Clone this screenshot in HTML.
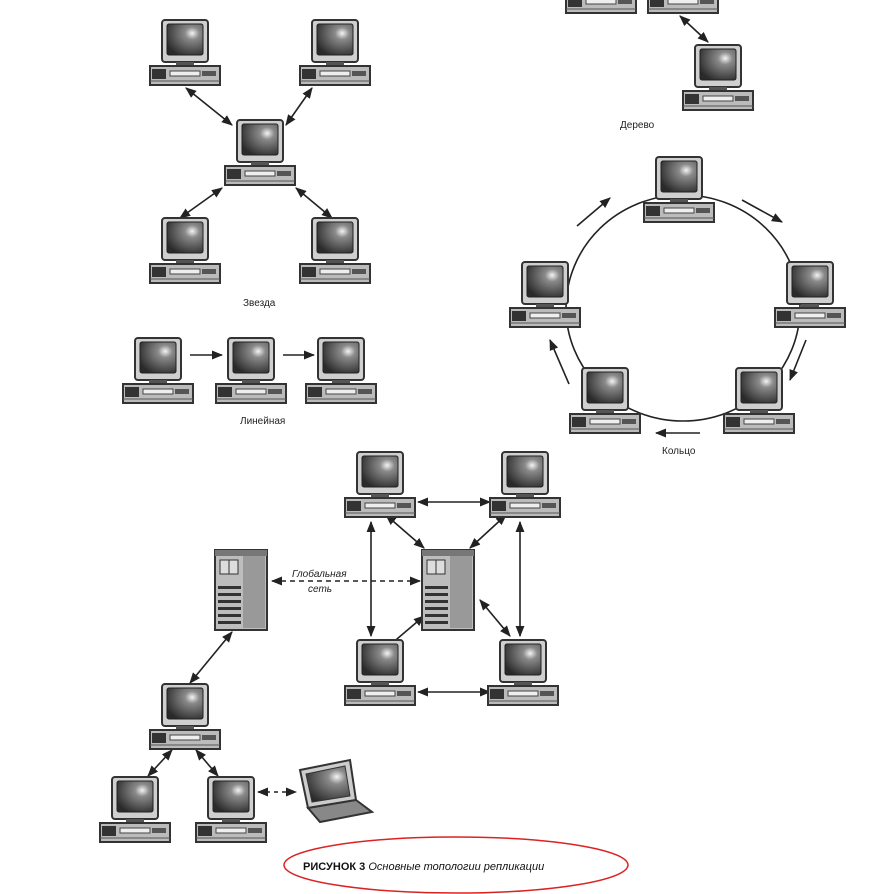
<!DOCTYPE html>
<html><head><meta charset="utf-8"><style>
html,body{margin:0;padding:0;background:#fff}
svg{display:block}
text{font-family:"Liberation Sans","DejaVu Sans",sans-serif}
</style></head><body>
<svg width="876" height="894" viewBox="0 0 876 894" xmlns="http://www.w3.org/2000/svg">
<defs>
<radialGradient id="scr" cx="0.7" cy="0.3" r="0.8">
<stop offset="0" stop-color="#f4f4f4"/><stop offset="0.25" stop-color="#8a8a8a"/><stop offset="1" stop-color="#2a2a2a"/>
</radialGradient>
<marker id="ah" viewBox="0 0 10 10" refX="9" refY="5" markerWidth="7" markerHeight="7" orient="auto-start-reverse">
<path d="M0,1 L10,5 L0,9 z" fill="#222"/></marker>
<symbol id="pc" overflow="visible">
<rect x="0" y="0" width="46" height="42" rx="3" fill="#cfcfcf" stroke="#333" stroke-width="2"/>
<rect x="5" y="4" width="36" height="31" rx="2" fill="url(#scr)" stroke="#222"/>
<rect x="14" y="42" width="18" height="4" fill="#555"/>
<rect x="-12" y="46" width="70" height="19" fill="#bbb" stroke="#333" stroke-width="2"/>
<rect x="-10" y="49" width="14" height="10" fill="#333"/>
<rect x="8" y="51" width="30" height="5" fill="#eee" stroke="#444"/>
<rect x="40" y="51" width="14" height="5" fill="#555"/>
<line x1="-12" y1="61" x2="58" y2="61" stroke="#555"/>
</symbol>
<symbol id="srv" overflow="visible">
<rect x="0" y="0" width="52" height="80" fill="#bdbdbd" stroke="#333" stroke-width="2"/>
<rect x="28" y="2" width="22" height="76" fill="#999"/>
<rect x="0" y="0" width="52" height="6" fill="#777"/>
<rect x="5" y="10" width="18" height="14" fill="#ddd" stroke="#333"/>
<line x1="14" y1="10" x2="14" y2="24" stroke="#333"/>
<g fill="#333"><rect x="3" y="36" width="23" height="3"/><rect x="3" y="43" width="23" height="3"/><rect x="3" y="50" width="23" height="3"/><rect x="3" y="57" width="23" height="3"/><rect x="3" y="64" width="23" height="3"/><rect x="3" y="71" width="23" height="3"/></g>
</symbol>
</defs>

<g stroke="#222" stroke-width="1.6" fill="none">
<!-- star -->
<line x1="186" y1="88" x2="232" y2="125" marker-start="url(#ah)" marker-end="url(#ah)"/>
<line x1="312" y1="88" x2="286" y2="125" marker-start="url(#ah)" marker-end="url(#ah)"/>
<line x1="222" y1="188" x2="180" y2="218" marker-start="url(#ah)" marker-end="url(#ah)"/>
<line x1="296" y1="188" x2="332" y2="218" marker-start="url(#ah)" marker-end="url(#ah)"/>
<!-- tree -->
<line x1="680" y1="16" x2="708" y2="42" marker-start="url(#ah)" marker-end="url(#ah)"/>
<!-- linear -->
<line x1="190" y1="355" x2="222" y2="355" marker-end="url(#ah)"/>
<line x1="283" y1="355" x2="314" y2="355" marker-end="url(#ah)"/>
<!-- ring -->
<ellipse cx="683" cy="308" rx="117" ry="113"/>
<line x1="577" y1="226" x2="610" y2="198" marker-end="url(#ah)"/>
<line x1="742" y1="200" x2="782" y2="222" marker-end="url(#ah)"/>
<line x1="806" y1="340" x2="790" y2="380" marker-end="url(#ah)"/>
<line x1="700" y1="433" x2="656" y2="433" marker-end="url(#ah)"/>
<line x1="569" y1="384" x2="550" y2="340" marker-end="url(#ah)"/>
<!-- global -->
<line x1="418" y1="502" x2="490" y2="502" marker-start="url(#ah)" marker-end="url(#ah)"/>
<line x1="418" y1="692" x2="490" y2="692" marker-start="url(#ah)" marker-end="url(#ah)"/>
<line x1="371" y1="522" x2="371" y2="636" marker-start="url(#ah)" marker-end="url(#ah)"/>
<line x1="520" y1="522" x2="520" y2="636" marker-start="url(#ah)" marker-end="url(#ah)"/>
<line x1="386" y1="515" x2="424" y2="548" marker-start="url(#ah)" marker-end="url(#ah)"/>
<line x1="506" y1="515" x2="470" y2="548" marker-start="url(#ah)" marker-end="url(#ah)"/>
<line x1="384" y1="650" x2="424" y2="616" marker-start="url(#ah)" marker-end="url(#ah)"/>
<line x1="510" y1="636" x2="480" y2="600" marker-start="url(#ah)" marker-end="url(#ah)"/>
<line x1="272" y1="581" x2="420" y2="581" stroke-dasharray="5,4" marker-start="url(#ah)" marker-end="url(#ah)"/>
<line x1="232" y1="632" x2="190" y2="683" marker-start="url(#ah)" marker-end="url(#ah)"/>
<line x1="172" y1="750" x2="148" y2="776" marker-start="url(#ah)" marker-end="url(#ah)"/>
<line x1="196" y1="750" x2="218" y2="776" marker-start="url(#ah)" marker-end="url(#ah)"/>
<line x1="258" y1="792" x2="296" y2="792" stroke-dasharray="4,4" marker-start="url(#ah)" marker-end="url(#ah)"/>
</g>

<!-- star -->
<use href="#pc" x="162" y="20"/><use href="#pc" x="312" y="20"/><use href="#pc" x="237" y="120"/>
<use href="#pc" x="162" y="218"/><use href="#pc" x="312" y="218"/>
<!-- tree -->
<use href="#pc" x="578" y="-52"/><use href="#pc" x="660" y="-52"/><use href="#pc" x="695" y="45"/>
<!-- linear -->
<use href="#pc" x="135" y="338"/><use href="#pc" x="228" y="338"/><use href="#pc" x="318" y="338"/>
<!-- ring -->
<use href="#pc" x="656" y="157"/><use href="#pc" x="787" y="262"/><use href="#pc" x="736" y="368"/>
<use href="#pc" x="582" y="368"/><use href="#pc" x="522" y="262"/>
<!-- global -->
<use href="#pc" x="357" y="452"/><use href="#pc" x="502" y="452"/>
<use href="#pc" x="357" y="640"/><use href="#pc" x="500" y="640"/>
<use href="#srv" x="422" y="550"/><use href="#srv" x="215" y="550"/>
<use href="#pc" x="162" y="684"/><use href="#pc" x="112" y="777"/><use href="#pc" x="208" y="777"/>
<!-- laptop -->
<g stroke="#333" stroke-width="2">
<polygon points="300,770 350,760 356,800 308,808" fill="#ccc"/>
<polygon points="306,774 345,766 350,796 312,802" fill="url(#scr)" stroke-width="1"/>
<polygon points="308,808 356,800 372,812 320,822" fill="#888"/>
</g>

<g font-size="10" fill="#222">
<text x="243" y="306">Звезда</text>
<text x="240" y="424">Линейная</text>
<text x="620" y="128">Дерево</text>
<text x="662" y="454">Кольцо</text>
<text x="292" y="577" font-style="italic">Глобальная</text>
<text x="308" y="592" font-style="italic">сеть</text>
</g>

<ellipse cx="456" cy="865" rx="172" ry="28" fill="none" stroke="#d22" stroke-width="1.5"/>
<text x="303" y="870" font-size="11" fill="#111"><tspan font-weight="bold">РИСУНОК 3</tspan><tspan font-style="italic"> Основные  топологии репликации</tspan></text>
</svg>
</body></html>
